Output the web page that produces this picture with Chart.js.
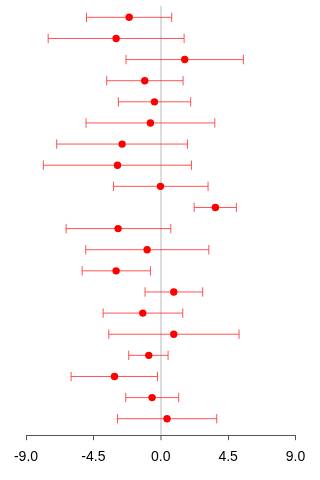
<!DOCTYPE html>
<html>
<head>
<meta charset="utf-8">
<script src="https://cdn.jsdelivr.net/npm/chart.js@4/dist/chart.umd.min.js"></script>
<style>
  html, body { margin: 0; padding: 0; background: #fff; }
  #wrap { width: 320px; height: 480px; }
</style>
</head>
<body>
<div id="wrap"><canvas id="c" width="320" height="480"></canvas></div>
<script>
// Study rows, top to bottom
const rows = [1, 2, 3, 4, 5, 6, 7, 8, 9, 10, 11, 12, 13, 14, 15, 16, 17, 18, 19, 20];
// Point estimates
const estimates = [-2.11, -2.98, 1.60, -1.07, -0.42, -0.69, -2.58, -2.89, -0.02, 3.65,
                   -2.85, -0.91, -2.98, 0.87, -1.20, 0.87, -0.80, -3.09, -0.58, 0.42];
// Interval bounds
const lower = [-4.96, -7.52, -2.32, -3.61, -2.83, -4.99, -6.95, -7.84, -3.16, 2.23,
               -6.32, -5.01, -5.25, -1.05, -3.85, -3.47, -2.14, -5.99, -2.34, -2.89];
const upper = [0.73, 1.56, 5.52, 1.49, 2.00, 3.61, 1.78, 2.05, 3.16, 5.05,
               0.67, 3.21, -0.69, 2.80, 1.47, 5.23, 0.49, -0.22, 1.20, 3.74];
// Axis ticks
const xTicks = [-9.0, -4.5, 0.0, 4.5, 9.0];

const barColor = 'rgba(255,40,40,0.8)';

const intervalSets = rows.map((r, i) => ({
  type: 'line',
  data: [{ x: lower[i], y: r }, { x: upper[i], y: r }],
  borderColor: barColor,
  borderWidth: 1,
  pointStyle: 'line',
  rotation: 90,
  pointRadius: 4.7,
  pointBorderWidth: 1,
  pointBorderColor: barColor,
  pointHoverRadius: 4.7,
  clip: false,
  order: 2
}));

const pointSet = {
  type: 'scatter',
  data: rows.map((r, i) => ({ x: estimates[i], y: r })),
  backgroundColor: '#ff0000',
  borderColor: '#ff0000',
  borderWidth: 0,
  pointRadius: 3.7,
  clip: false,
  order: 1
};

new Chart(document.getElementById('c'), {
  type: 'scatter',
  data: { datasets: [...intervalSets, pointSet] },
  options: {
    responsive: false,
    animation: false,
    events: [],
    layout: { padding: { left: 26, right: 24.5, top: 0, bottom: 5 } },
    plugins: { legend: { display: false }, tooltip: { enabled: false } },
    scales: {
      x: {
        type: 'linear',
        min: xTicks[0],
        max: xTicks[xTicks.length - 1],
        afterBuildTicks: (axis) => { axis.ticks = xTicks.map(v => ({ value: v })); },
        border: { display: true, color: '#555', width: 1 },
        grid: {
          drawOnChartArea: true,
          drawTicks: true,
          tickLength: 5,
          tickColor: '#555',
          tickWidth: 1,
          color: (ctx) => (ctx.tick && ctx.tick.value === 0 ? '#dcdcdc' : 'rgba(0,0,0,0)'),
          lineWidth: (ctx) => (ctx.tick && ctx.tick.value === 0 ? 2 : 1)
        },
        ticks: {
          padding: 9,
          color: '#000',
          font: { family: '"Liberation Sans", Arial, sans-serif', size: 14 },
          maxRotation: 0,
          callback: (v) => Number(v).toFixed(1)
        }
      },
      y: {
        type: 'linear',
        display: false,
        reverse: true,
        min: 0.45,
        max: 20.78
      }
    }
  }
});
</script>
</body>
</html>
